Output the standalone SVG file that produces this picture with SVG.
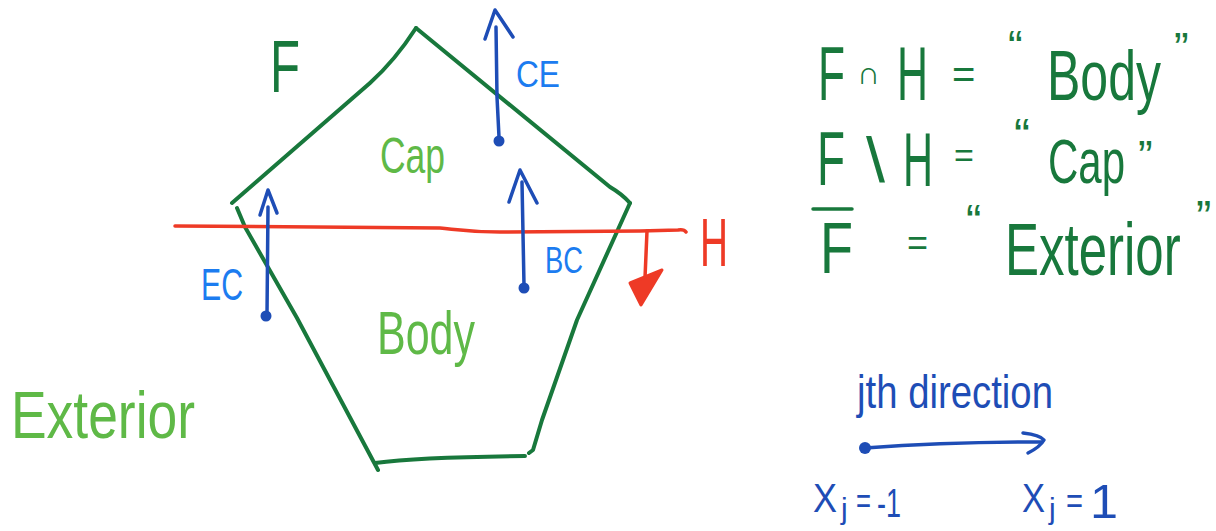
<svg xmlns="http://www.w3.org/2000/svg" width="1216" height="531" viewBox="0 0 1216 531">
<style>
text{font-family:"Liberation Sans",Arial,sans-serif}
.dg{fill:#18783c}
.lg{fill:#5fb947}
.lb{fill:#1c7cf0}
.db{fill:#1e4db6}
.rd{fill:#ee3a26}
.edge{fill:none;stroke:#18783c;stroke-width:4;stroke-linecap:round;stroke-linejoin:round}
.arr{fill:none;stroke:#1e4db6;stroke-width:3.5;stroke-linecap:round;stroke-linejoin:round}
.red{fill:none;stroke:#ee3a26;stroke-width:3.5;stroke-linecap:round;stroke-linejoin:round}
.dot{fill:#1e4db6}
</style>
<rect width="1216" height="531" fill="#ffffff"/>

<g id="face-F">
  <path class="edge" d="M416,28 C405,45 390,65 370,83 L232,203"/>
  <path class="edge" d="M416,28 L610,187 Q622,194 630,203"/>
  <path class="edge" d="M630,203 L577,320 L542,420 L533,450 L529,453"/>
  <path class="edge" d="M375,463 Q420,457 525,456"/>
  <path class="edge" d="M237,208 L245,227 L297,318 L378,470"/>
</g>

<g id="halfspace-H">
  <path class="red" d="M175,226 L440,228 C460,230 470,232 500,232 L640,231 L678,230 Q684,229 686,232"/>
  <path class="red" d="M647,231 L645,278"/>
  <polygon points="630,283 662,270 641,305" fill="#ee3a26" stroke="#ee3a26" stroke-width="3" stroke-linejoin="round"/>
</g>

<g id="connectors">
  <g id="arrow-CE">
    <path class="arr" d="M496,27 L497,97 L499,137"/>
    <path class="arr" d="M485,39 L495,10 L513,37"/>
    <circle class="dot" cx="499" cy="141" r="5.5"/>
  </g>
  <g id="arrow-EC">
    <path class="arr" d="M268,207 L267,315"/>
    <path class="arr" d="M260,215 L268,190 L277,213"/>
    <circle class="dot" cx="266" cy="316" r="5.5"/>
  </g>
  <g id="arrow-BC">
    <path class="arr" d="M522,182 L524,285"/>
    <path class="arr" d="M509,202 L520,170 L537,203"/>
    <circle class="dot" cx="524" cy="288" r="5.5"/>
  </g>
  <g id="arrow-direction">
    <path class="arr" d="M865,448 Q950,442 1042,442"/>
    <path class="arr" d="M1023,433 Q1040,435 1044,440 Q1040,447 1028,453"/>
    <circle class="dot" cx="865" cy="448" r="6"/>
  </g>
</g>

<g id="label-F"><text class="dg" x="270" y="92" font-size="74" textLength="30" lengthAdjust="spacingAndGlyphs">F</text></g>
<g id="label-CE"><text class="lb" x="516" y="87" font-size="37" textLength="44" lengthAdjust="spacingAndGlyphs">CE</text></g>
<g id="label-Cap"><text class="lg" x="380" y="173" font-size="50" textLength="65" lengthAdjust="spacingAndGlyphs">Cap</text></g>
<g id="label-EC"><text class="lb" x="201" y="300" font-size="44" textLength="42" lengthAdjust="spacingAndGlyphs">EC</text></g>
<g id="label-BC"><text class="lb" x="545" y="273" font-size="37" textLength="38" lengthAdjust="spacingAndGlyphs">BC</text></g>
<g id="label-Body"><text class="lg" x="377" y="354" font-size="62" textLength="98" lengthAdjust="spacingAndGlyphs">Body</text></g>
<g id="label-H"><text class="rd" x="700" y="266" font-size="68" textLength="28" lengthAdjust="spacingAndGlyphs">H</text></g>
<g id="label-Exterior"><text class="lg" x="11" y="438" font-size="66" textLength="184" lengthAdjust="spacingAndGlyphs">Exterior</text></g>

<g id="def-body" class="dg">
  <text class="dg" transform="translate(818,100) scale(1,1.4)" font-size="54" textLength="27" lengthAdjust="spacingAndGlyphs">F</text>
  <text class="dg" x="857" y="84" font-size="32" font-family="DejaVu Sans, sans-serif">∩</text>
  <text class="dg" transform="translate(897,100) scale(1,1.4)" font-size="54" textLength="31" lengthAdjust="spacingAndGlyphs">H</text>
  <text class="dg" x="952" y="88" font-size="40">=</text>
  <text class="dg" x="1008" y="62" font-size="44">“</text>
  <text class="dg" transform="translate(1047,100) scale(1,1.4)" font-size="50">Body</text>
  <text class="dg" x="1174" y="64" font-size="44">”</text>
</g>
<g id="def-cap">
  <text class="dg" transform="translate(817,185) scale(1,1.4)" font-size="54" textLength="28" lengthAdjust="spacingAndGlyphs">F</text>
  <text class="dg" transform="translate(866,182) scale(1,1.25)" font-size="50" textLength="19" lengthAdjust="spacingAndGlyphs">\</text>
  <text class="dg" transform="translate(903,186) scale(1,1.4)" font-size="54" textLength="30" lengthAdjust="spacingAndGlyphs">H</text>
  <text class="dg" x="954" y="167" font-size="34">=</text>
  <text class="dg" x="1014" y="152" font-size="48">“</text>
  <text class="dg" transform="translate(1048,183) scale(1,1.5)" font-size="42">Cap</text>
  <text class="dg" x="1138" y="172" font-size="44">”</text>
</g>
<g id="def-exterior">
  <line x1="813" y1="209" x2="852" y2="209" stroke="#18783c" stroke-width="3.5" stroke-linecap="round"/>
  <text class="dg" transform="translate(820,273) scale(1,1.4)" font-size="52" textLength="33" lengthAdjust="spacingAndGlyphs">F</text>
  <text class="dg" x="907" y="255" font-size="36">=</text>
  <text class="dg" x="966" y="237" font-size="46">“</text>
  <text class="dg" transform="translate(1005,275) scale(1,1.45)" font-size="51">Exterior</text>
  <text class="dg" x="1196" y="233" font-size="46">”</text>
</g>

<g id="label-direction"><text class="db" x="857" y="408" font-size="46" textLength="196" lengthAdjust="spacingAndGlyphs">jth direction</text></g>
<g id="label-xminus">
  <text class="db" y="512" font-size="40"><tspan x="813" textLength="24" lengthAdjust="spacingAndGlyphs">X</tspan><tspan x="841" y="519" font-size="30">j</tspan><tspan x="856" y="513" font-size="36" textLength="15" lengthAdjust="spacingAndGlyphs">=</tspan><tspan x="877" y="517" font-size="40" textLength="24" lengthAdjust="spacingAndGlyphs">-1</tspan></text>
</g>
<g id="label-xplus">
  <text class="db" y="512" font-size="40"><tspan x="1022" textLength="23" lengthAdjust="spacingAndGlyphs">X</tspan><tspan x="1049" y="519" font-size="30">j</tspan><tspan x="1066" y="513" font-size="36" textLength="17" lengthAdjust="spacingAndGlyphs">=</tspan><tspan x="1090" y="518" font-size="48" textLength="28" lengthAdjust="spacingAndGlyphs">1</tspan></text>
</g>
</svg>
